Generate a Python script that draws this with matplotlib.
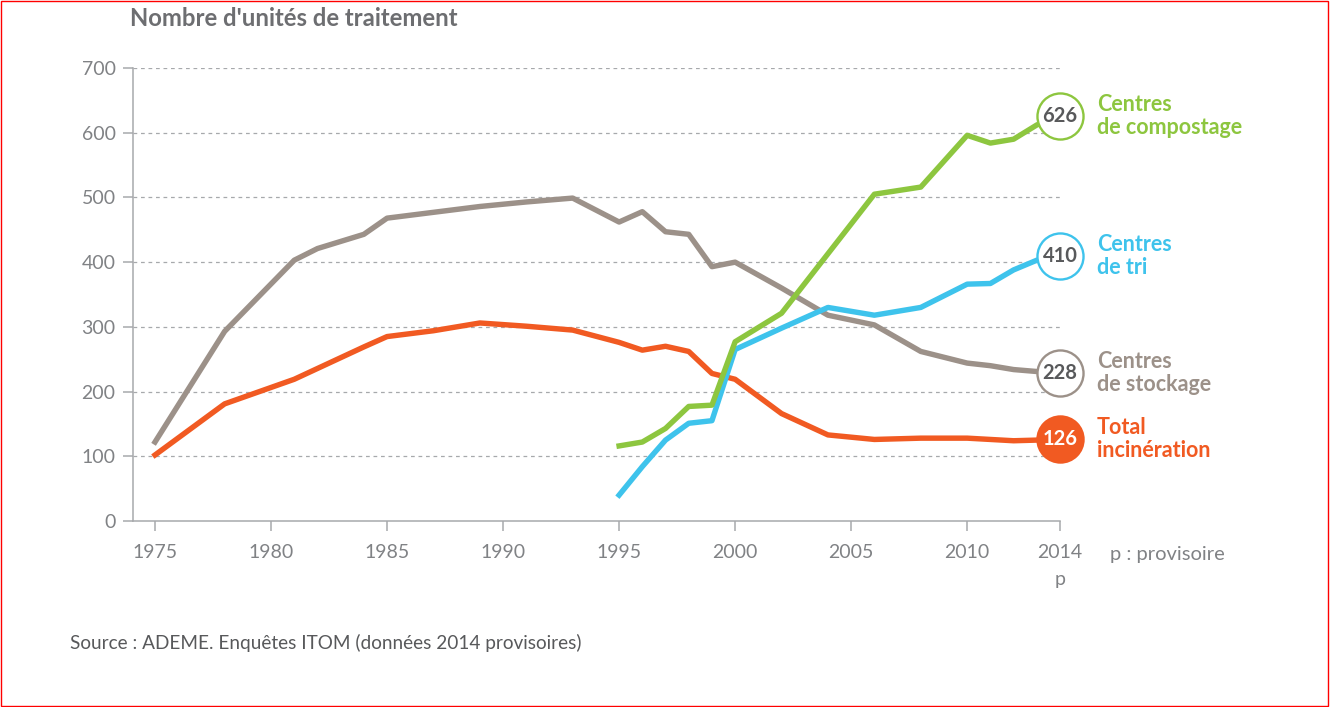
import numpy as np
import matplotlib
matplotlib.use("Agg")
import matplotlib.pyplot as plt
from matplotlib.patches import Rectangle

plt.rcParams['font.family'] = ['Lato', 'DejaVu Sans']

# données
years_stock = [1975, 1978, 1981, 1982, 1984, 1985, 1987, 1989, 1991, 1993, 1995, 1996,
               1997, 1998, 1999, 2000, 2002, 2004, 2006, 2008, 2010, 2011, 2012, 2013, 2014]
stockage = [122, 293, 403, 421, 443, 468, 477, 486, 493, 499, 462, 478,
            447, 443, 393, 400, 360, 318, 303, 262, 244, 240, 234, 231, 228]

years_incin = [1975, 1978, 1981, 1984, 1985, 1987, 1989, 1991, 1993, 1995, 1996, 1997,
               1998, 1999, 2000, 2002, 2004, 2006, 2008, 2010, 2012, 2014]
incineration = [102, 181, 219, 269, 285, 294, 306, 301, 295, 276, 264, 270,
                262, 228, 219, 166, 133, 126, 128, 128, 124, 126]

years_new = [1995, 1996, 1997, 1998, 1999, 2000, 2002, 2004, 2006, 2008, 2010, 2011, 2012, 2013, 2014]
compostage = [116, 122, 143, 177, 179, 277, 321, 413, 505, 516, 596, 584, 590, 612, 626]
tri = [40, 84, 125, 151, 155, 265, 298, 330, 318, 330, 366, 367, 388, 403, 410]

xticks = [1975, 1980, 1985, 1990, 1995, 2000, 2005, 2010, 2014]
xtick_labels = ['1975', '1980', '1985', '1990', '1995', '2000', '2005', '2010', '2014\np']
yticks = [0, 100, 200, 300, 400, 500, 600, 700]

c_stock = '#9c9189'
c_incin = '#f15a22'
c_comp = '#8dc63f'
c_tri = '#3ec3ec'
c_axis = '#a7a9ac'
c_text = '#808285'

fig = plt.figure(figsize=(13.31, 7.07), dpi=100)
ax = fig.add_axes([0.0999, 0.2631, 0.6965, 0.6407])

ax.set_xlim(1974.05, 2014)
ax.set_ylim(0, 700)

# grille pointillée
for v in yticks[1:]:
    ax.axhline(v, color=c_axis, lw=0.9, ls=(0, (3, 3)), zorder=1)

ax.plot(years_stock, stockage, color=c_stock, lw=3.9, zorder=3, solid_joinstyle='round')
ax.plot(years_incin, incineration, color=c_incin, lw=3.9, zorder=4, solid_joinstyle='round')
ax.plot(years_new, tri, color=c_tri, lw=3.9, zorder=5, solid_joinstyle='round')
ax.plot(years_new, compostage, color=c_comp, lw=3.9, zorder=6, solid_joinstyle='round')

# cercles de fin + étiquettes
series = [
    (compostage[-1], c_comp, 'Centres\nde compostage', False),
    (tri[-1], c_tri, 'Centres\nde tri', False),
    (stockage[-1], c_stock, 'Centres\nde stockage', False),
    (incineration[-1], c_incin, 'Total\nincinération', True),
]
for val, col, lab, filled in series:
    ax.scatter([2014], [val], s=1100, facecolor=col if filled else 'white',
               edgecolor=col, linewidth=1.7, zorder=10, clip_on=False)
    ax.text(2014, val, str(val), ha='center', va='center', fontsize=14.5, fontweight='bold',
            color='white' if filled else '#58595b', zorder=11, clip_on=False)
    ax.annotate(lab, xy=(2014, val), xytext=(26.5, 0), textcoords='offset points',
                ha='left', va='center', fontsize=15.5, fontweight='bold', color=col,
                linespacing=1.12, annotation_clip=False)

for s in ['top', 'right']:
    ax.spines[s].set_visible(False)
ax.spines['left'].set_color(c_axis)
ax.spines['bottom'].set_color(c_axis)
ax.spines['left'].set_linewidth(1.1)
ax.spines['bottom'].set_linewidth(1.1)

ax.set_xticks(xticks)
ax.set_xticklabels(xtick_labels)
ax.set_yticks(yticks)
ax.tick_params(axis='both', colors=c_axis, labelcolor=c_text, labelsize=14,
               length=7.5, width=1.1, direction='out')
ax.tick_params(axis='x', pad=9)
ax.tick_params(axis='y', pad=5)
for t in ax.get_xticklabels():
    t.set_linespacing(1.7)
    t.set_va('top')

ax.annotate('p : provisoire', xy=(2014, 0), xytext=(36, -24), textcoords='offset points',
            ha='left', va='center', fontsize=14.5, color=c_text, annotation_clip=False)

fig.text(130 / 1331, 1 - 19 / 707, "Nombre d'unités de traitement", ha='left', va='center',
         fontsize=17.2, fontweight='bold', color='#6d6e71')
fig.text(70 / 1331, 1 - 643 / 707, 'Source : ADEME. Enquêtes ITOM (données 2014 provisoires)',
         ha='left', va='center', fontsize=13.7, color='#58595b')

fig.patches.append(Rectangle((0.001, 0.002), 0.997, 0.996, transform=fig.transFigure,
                             fill=False, edgecolor='red', lw=1))

fig.savefig('out.png', dpi=100)
